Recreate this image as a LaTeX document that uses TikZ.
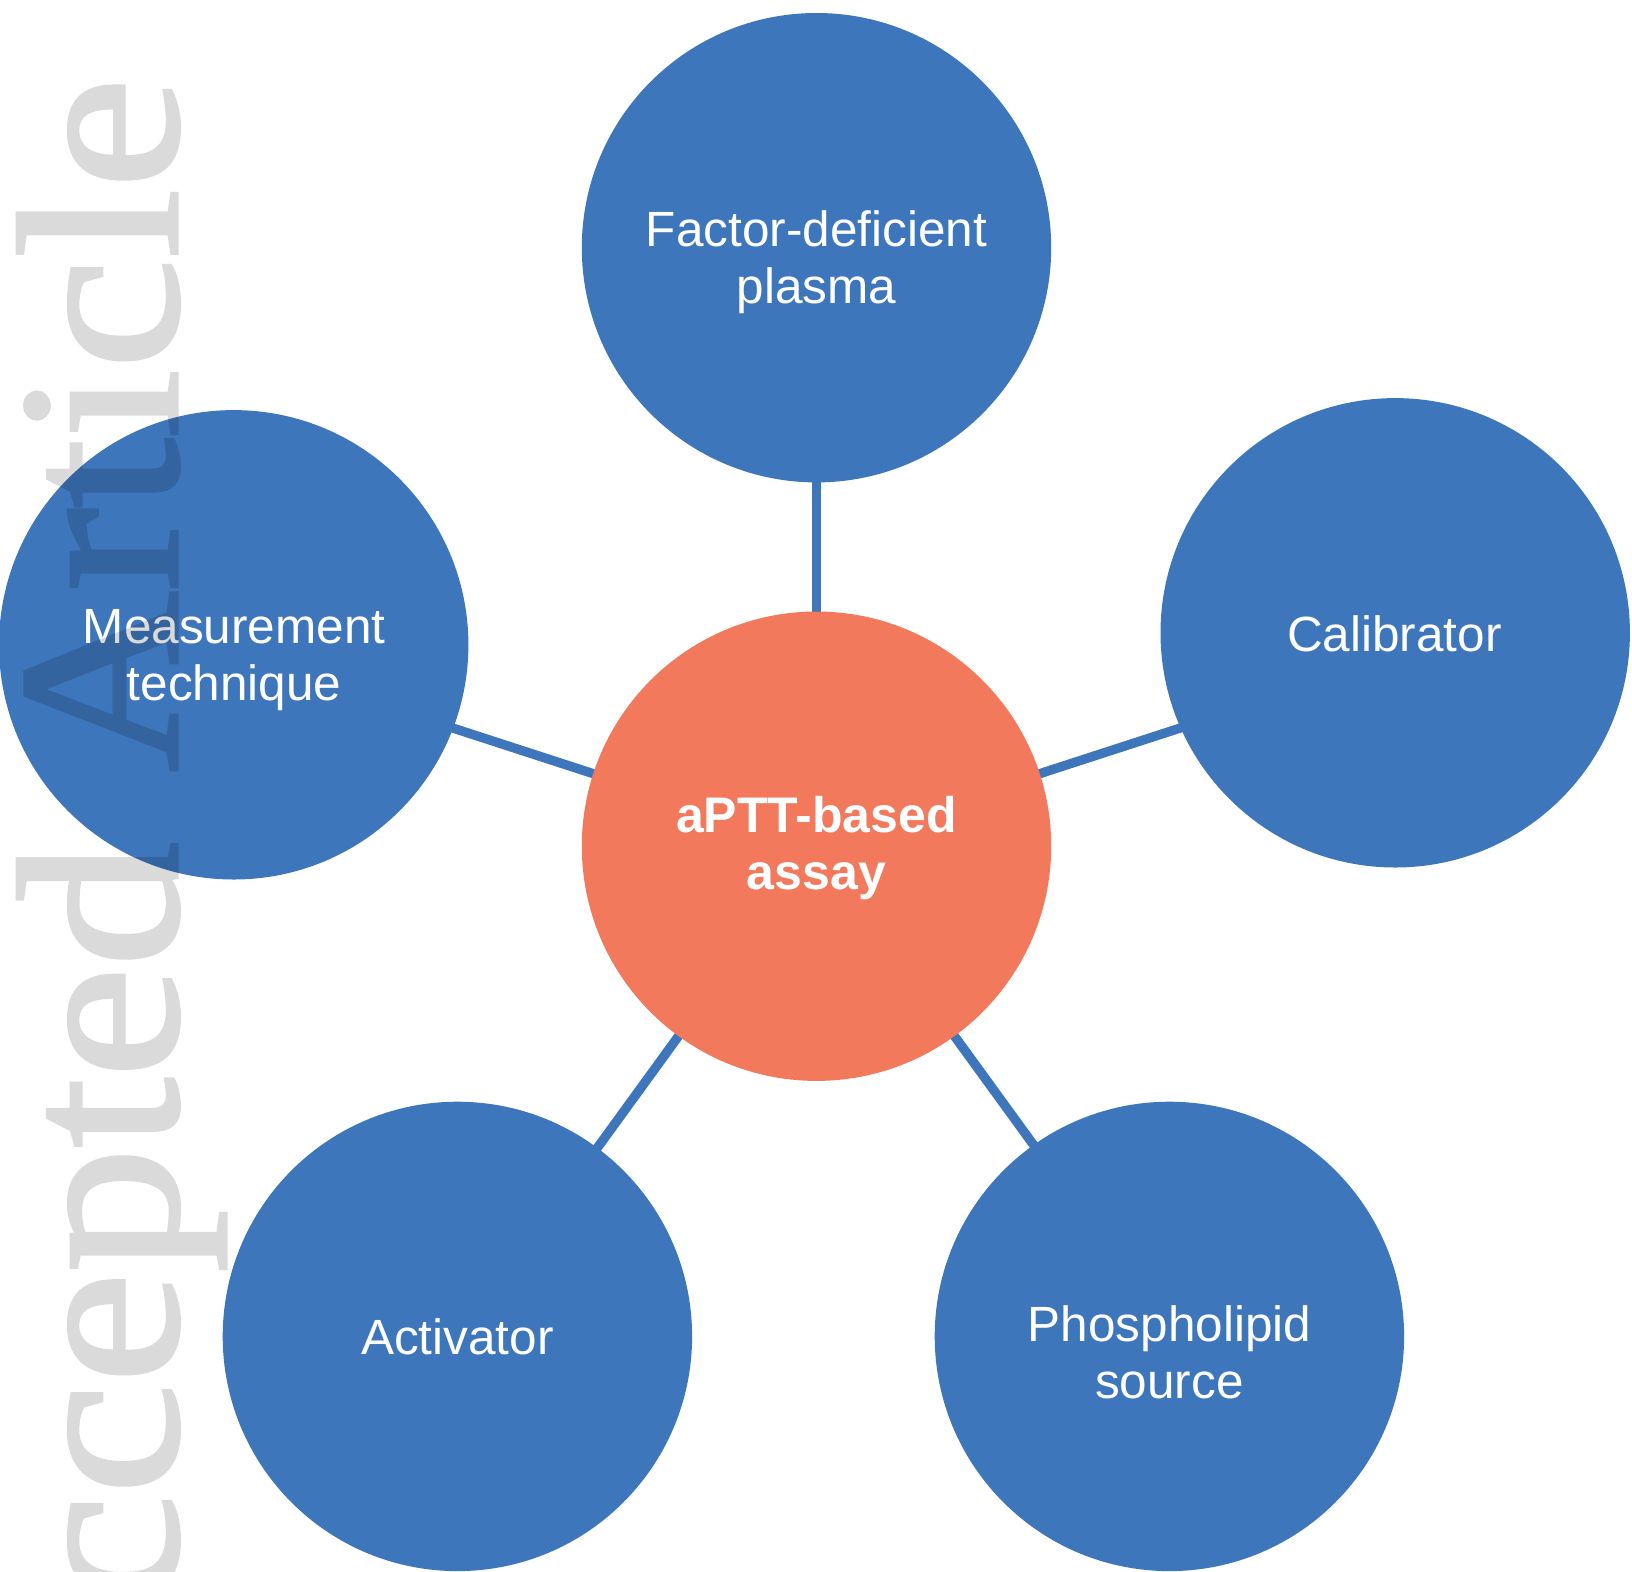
\documentclass[tikz,border=0pt]{standalone}
\usepackage{fontspec}
\usetikzlibrary{calc,backgrounds}
\setmainfont{Liberation Sans}
\newfontfamily\wmfont[FakeBold=1.5]{Liberation Serif}
\definecolor{nodeblue}{RGB}{61,118,187}
\definecolor{coreorange}{RGB}{242,121,92}
\begin{document}
\begin{tikzpicture}[x=1pt,y=-1pt,
  bubble/.style={circle, fill=nodeblue, draw=none, minimum size=469.4pt, inner sep=0pt},
  core/.style={circle, fill=coreorange, draw=none, minimum size=469.4pt, inner sep=0pt},
  link/.style={draw=nodeblue, line width=9.3pt},
  lbl/.style={anchor=base, align=center, inner sep=0pt, text=white, font=\fontsize{49.5}{56.7}\selectfont},
  corelbl/.style={lbl, font=\fontsize{50}{56.7}\selectfont\bfseries},
  wm/.style={rotate=90, anchor=base east, inner sep=0pt, text=black, font=\wmfont\fontsize{250}{250}\selectfont}]
\useasboundingbox (0,0) rectangle (1632,1571);
% circles
\node[core] (center) at (816.5,846.2) {};
\node[bubble] (top) at (816.5,247.7) {};
\node[bubble] (left) at (233.7,644.8) {};
\node[bubble] (right) at (1395.2,632.8) {};
\node[bubble] (bl) at (457.4,1336.4) {};
\node[bubble] (br) at (1169.4,1336.4) {};
% spoke ends (inside the outer circles); y axis points down, so angles are mirrored
\coordinate (sT) at ($(center.center)+(-90:610)$);
\coordinate (sR) at ($(center.center)+(-18:610)$);
\coordinate (sL) at ($(center.center)+(-162:610)$);
\coordinate (sBL) at ($(center.center)+(126:610)$);
\coordinate (sBR) at ($(center.center)+(54:610)$);
% connectors
\begin{scope}[on background layer]
\draw[link] (center.center) -- (sT);
\draw[link] (center.center) -- (sR);
\draw[link] (center.center) -- (sL);
\draw[link] (center.center) -- (sBL);
\draw[link] (center.center) -- (sBR);
\end{scope}
% labels (anchor = baseline of last line)
\node[lbl] (ttop) at (816.5,303.3) {Factor-deficient\\plasma};
\node[lbl] (tleft) at (234.2,700) {Measurement\\technique};
\node[lbl] (tright) at (1394.5,651.7) {Calibrator};
\node[lbl] (tbl) at (457.4,1354) {Activator};
\node[lbl] (tbr) at (1169.4,1398.3) {Phospholipid\\source};
\node[corelbl] (tcenter) at (816.5,889.3) {aPTT-based\\assay};
% watermark
\begin{scope}[transparency group, opacity=0.145]
\node[wm] (wmark) at (177,77.7) {\scalebox{1}[0.92]{Accepted\hspace{70pt}Article}};
\end{scope}
\end{tikzpicture}
\end{document}
